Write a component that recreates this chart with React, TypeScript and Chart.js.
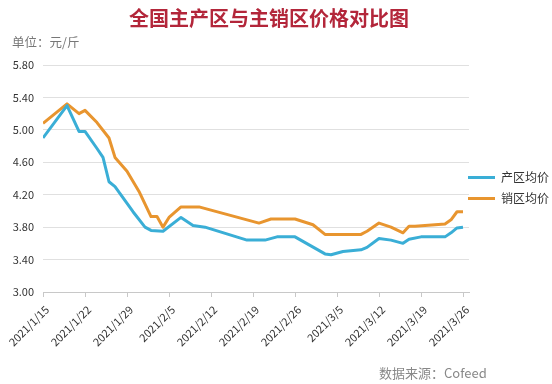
import React, { useEffect, useRef } from "react";
import { Chart, registerables } from "chart.js";

Chart.register(...registerables);

// ---- data ----
const seriesNames = ["产区均价", "销区均价"];
const seriesColors = ["#3aaed6", "#e8952f"];

// day offsets from 2021/1/15 where the line changes direction
const producerDays = [0, 4, 6, 7, 9, 10, 11, 12, 15, 17, 18, 20, 23, 25, 27, 34, 37, 39, 42, 47, 48, 50, 53, 54, 56, 58, 60, 61, 63, 67, 68, 69, 70];
const producerValues = [4.90, 5.30, 4.98, 4.98, 4.77, 4.66, 4.36, 4.30, 3.99, 3.80, 3.76, 3.75, 3.92, 3.82, 3.80, 3.64, 3.64, 3.68, 3.68, 3.47, 3.46, 3.50, 3.52, 3.55, 3.66, 3.64, 3.60, 3.65, 3.68, 3.68, 3.73, 3.79, 3.80];

const consumerDays = [0, 4, 6, 7, 9, 11, 12, 14, 16, 18, 19, 20, 21, 23, 26, 36, 38, 42, 45, 47, 53, 54, 56, 58, 60, 61, 62, 67, 68, 69, 70];
const consumerValues = [5.08, 5.32, 5.20, 5.24, 5.09, 4.90, 4.66, 4.49, 4.24, 3.93, 3.93, 3.80, 3.92, 4.05, 4.05, 3.85, 3.90, 3.90, 3.83, 3.71, 3.71, 3.75, 3.85, 3.80, 3.73, 3.81, 3.81, 3.84, 3.89, 3.99, 3.99];

const tickLabels = ["2021/1/15", "2021/1/22", "2021/1/29", "2021/2/5", "2021/2/12", "2021/2/19", "2021/2/26", "2021/3/5", "2021/3/12", "2021/3/19", "2021/3/26"];
const tickStepDays = 7;
const yMin = 3.0;
const yMax = 5.8;
const yStep = 0.4;

const titleText = "全国主产区与主销区价格对比图";
const unitText = "单位：元/斤";
const sourceText = "数据来源：Cofeed";

const FONT = '"Noto Sans CJK SC", "Noto Sans", sans-serif';

export default function App() {
  const canvasRef = useRef<HTMLCanvasElement>(null);

  useEffect(() => {
    document.body.style.margin = "0";
    const canvas = canvasRef.current;
    if (!canvas) return;

    const legendPlace = {
      id: "legendPlace",
      afterLayout(chart: any) {
        const lg = chart.legend;
        const ca = chart.chartArea;
        if (!lg || !ca) return;
        lg.left = ca.right - 10;
        lg.right = chart.width;
        lg.width = lg.right - lg.left;
        lg.top = (ca.top + ca.bottom) / 2 - 16;
        lg.bottom = lg.top + lg.height;
      },
    };

    const chart = new Chart(canvas, {
      type: "line",
      data: {
        datasets: [
          {
            label: seriesNames[0],
            data: producerDays.map((d, i) => ({ x: d, y: producerValues[i] })),
            borderColor: seriesColors[0],
            backgroundColor: seriesColors[0],
            borderWidth: 3,
            pointRadius: 0,
            tension: 0,
            borderJoinStyle: "round",
          },
          {
            label: seriesNames[1],
            data: consumerDays.map((d, i) => ({ x: d, y: consumerValues[i] })),
            borderColor: seriesColors[1],
            backgroundColor: seriesColors[1],
            borderWidth: 3,
            pointRadius: 0,
            tension: 0,
            borderJoinStyle: "round",
          },
        ],
      },
      options: {
        responsive: false,
        animation: false,
        layout: { padding: { top: 65, left: 0, right: 0, bottom: 0 } },
        plugins: {
          tooltip: { enabled: false },
          title: { display: false },
          legend: {
            display: true,
            position: "right",
            align: "start",
            maxWidth: 83,
            labels: {
              boxWidth: 27,
              boxHeight: 3,
              padding: 9,
              color: "#333",
              font: { family: FONT, size: 12 },
              generateLabels(chart: any) {
                const items = (Chart.defaults.plugins.legend.labels as any).generateLabels(chart);
                return items.map((it: any) => ({ ...it, lineWidth: 0 }));
              },
            },
          },
        },
        scales: {
          x: {
            type: "linear",
            min: 0,
            max: (tickLabels.length - 1) * tickStepDays + 1,
            afterFit(scale: any) {
              scale.height = 92;
            },
            afterBuildTicks(scale: any) {
              scale.ticks = tickLabels.map((_, i) => ({ value: i * tickStepDays }));
            },
            grid: {
              display: true,
              drawOnChartArea: false,
              drawTicks: true,
              tickLength: 5,
              color: "#c8c8c8",
            },
            border: { display: true, color: "#c8c8c8" },
            ticks: {
              autoSkip: false,
              minRotation: 45,
              maxRotation: 45,
              padding: 6,
              labelOffset: 4,
              color: "#333",
              font: { family: FONT, size: 11 },
              callback: (v: any) => tickLabels[Math.round(Number(v) / tickStepDays)] ?? "",
            },
          },
          y: {
            min: yMin,
            max: yMax,
            afterFit(scale: any) {
              scale.width = 43;
            },
            ticks: {
              stepSize: yStep,
              padding: 9,
              color: "#333",
              font: { family: FONT, size: 11 },
              callback: (v: any) => Number(v).toFixed(2),
            },
            grid: { color: "#e0e0e0", drawTicks: false },
            border: { display: false },
          },
        },
      },
      plugins: [legendPlace],
    } as any);

    return () => chart.destroy();
  }, []);

  return (
    <div style={{ position: "relative", width: 552, height: 384, background: "#fff", overflow: "hidden" }}>
      <canvas ref={canvasRef} width={552} height={384} style={{ display: "block" }} />
      <div
        style={{
          position: "absolute",
          left: 0,
          width: 538,
          top: 8,
          textAlign: "center",
          fontFamily: FONT,
          fontWeight: 700,
          fontSize: 20,
          lineHeight: "20px",
          color: "#b3263a",
          whiteSpace: "nowrap",
        }}
      >
        {titleText}
      </div>
      <div
        style={{
          position: "absolute",
          left: 12,
          top: 35,
          fontFamily: FONT,
          fontSize: 12.5,
          lineHeight: "14px",
          color: "#777",
          whiteSpace: "nowrap",
        }}
      >
        {unitText}
      </div>
      <div
        style={{
          position: "absolute",
          left: 379,
          top: 366,
          fontFamily: FONT,
          fontSize: 13,
          lineHeight: "14px",
          color: "#888",
          whiteSpace: "nowrap",
        }}
      >
        {sourceText}
      </div>
    </div>
  );
}
